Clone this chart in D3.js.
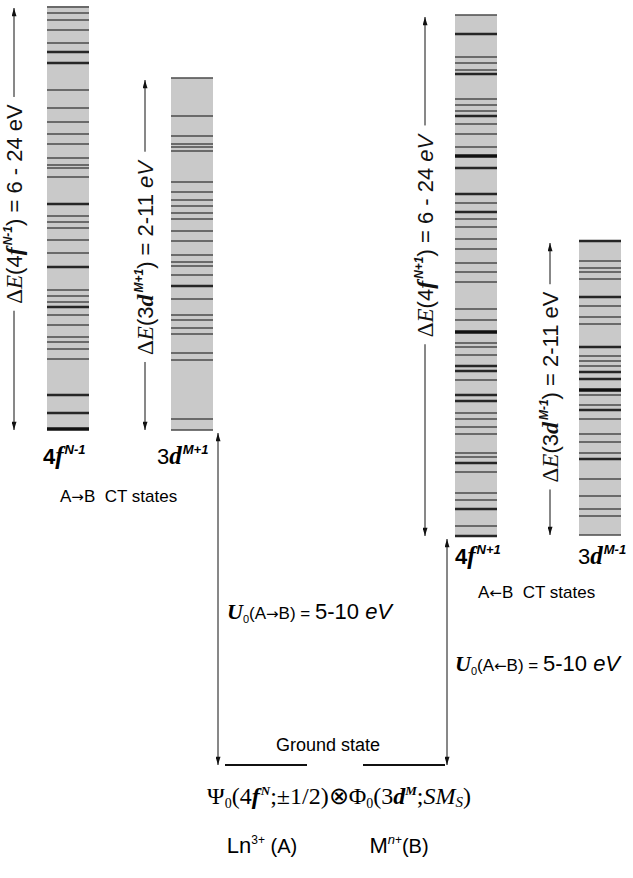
<!DOCTYPE html>
<html lang="en">
<head>
  <meta charset="UTF-8">
  <title>Ln-M charge transfer states</title>
  <style>
    body, html {
      margin: 0;
      padding: 0;
      background-color: #fff;
    }
    #svg {
      display: block;
    }
  </style>
</head>
<body>
  <svg id="svg" width="633" height="878"></svg>
  <script src="https://d3js.org/d3.v7.min.js"></script>
  <script>
    // energies in arbitrary units above the bottom of the picture
    const bands = ['4fN-1', '3dM+1', '4fN+1', '3dM-1']
    const bandLow = [35.5, 35.5, 24.9, 25.0]
    const bandHigh = [77.9, 70.7, 77.0, 54.4]
    const groundEnergy = 2.0

    // [energy, weight] - weight 1 thin, 2 thick, 3 very thick
    const levels4fNm1 = [
      [77.8, 1], [77.2, 1], [76.5, 1], [75.5, 1], [74.2, 1], [73.3, 2], [72.2, 2], [69.5, 1],
      [67.7, 1], [66.3, 1], [65.1, 1], [64.1, 1], [62.7, 1], [62.0, 1], [61.7, 1], [60.8, 1],
      [58.1, 2], [56.9, 1], [56.3, 1], [55.7, 1], [54.5, 1], [53.2, 1], [51.8, 2], [49.5, 1],
      [48.9, 1], [48.3, 1], [47.8, 2], [47.0, 1], [46.0, 1], [44.8, 1], [44.3, 1], [43.6, 1],
      [42.6, 1], [39.0, 2], [37.2, 2], [35.6, 3]
    ]
    const levels3dMp1 = [
      [70.7, 1], [66.9, 1], [64.9, 1], [64.1, 1], [63.8, 1], [63.4, 1], [60.3, 1], [59.3, 1],
      [58.5, 1], [57.9, 1], [57.2, 1], [56.6, 1], [55.4, 1], [54.4, 1], [53.0, 1], [52.3, 1],
      [51.9, 1], [51.0, 1], [49.9, 2], [48.6, 1], [47.0, 1], [46.5, 1], [45.7, 1], [45.1, 1],
      [43.2, 1], [42.5, 1], [36.6, 1], [35.5, 1]
    ]
    const levels4fNp1 = [
      [77.0, 1], [75.1, 2], [72.8, 1], [72.2, 1], [71.5, 1], [71.1, 2], [68.6, 1], [68.0, 1],
      [67.4, 1], [66.9, 2], [66.1, 1], [65.1, 1], [63.8, 1], [62.9, 3], [61.7, 2], [59.1, 2],
      [58.2, 1], [57.3, 2], [56.6, 1], [55.8, 1], [54.6, 1], [53.6, 1], [52.2, 1], [51.3, 1],
      [50.3, 1], [47.6, 1], [46.5, 1], [45.3, 3], [44.2, 1], [43.8, 1], [43.0, 1], [41.9, 2],
      [41.4, 2], [40.5, 1], [39.0, 2], [38.4, 2], [37.2, 1], [36.6, 1], [35.8, 1], [35.1, 1],
      [33.2, 1], [32.8, 1], [32.2, 2], [31.3, 1], [29.2, 1], [28.5, 1], [27.6, 2], [25.9, 1],
      [24.9, 2]
    ]
    const levels3dMm1 = [
      [54.4, 2], [52.4, 1], [51.7, 1], [51.3, 1], [50.6, 1], [48.8, 2], [47.9, 1], [46.8, 1],
      [46.1, 1], [43.8, 2], [42.9, 1], [42.4, 1], [41.9, 1], [41.3, 2], [40.6, 2], [39.5, 3],
      [39.0, 1], [38.0, 1], [37.5, 2], [36.6, 1], [35.1, 1], [34.3, 1], [33.2, 1], [32.6, 2],
      [30.6, 1], [28.9, 1], [27.6, 1], [26.9, 1], [25.0, 1]
    ]
    const bandLevels = [levels4fNm1, levels3dMp1, levels4fNp1, levels3dMm1]
    const bandWidths = ['6 - 24', '2-11', '6 - 24', '2-11']
    const uRange = '5-10'

    const svg = d3.select('#svg')
    const yScale = d3.scaleLinear().domain([0, 78]).range([785, 5])
    const weightScale = d3.scaleOrdinal().domain([1, 2, 3]).range([1.3, 2.3, 3.6])
    const shadeScale = d3.scaleOrdinal().domain([1, 2, 3]).range(['#4a4a4a', '#262626', '#111'])

    // layout of columns
    const barX = { '4fN-1': 47, '3dM+1': 171, '4fN+1': 455, '3dM-1': 579 }
    const barW = 42
    const arrowX = { '4fN-1': 14, '3dM+1': 145, '4fN+1': 425, '3dM-1': 550 }
    const labelY = { '4fN-1': 204, '3dM+1': 258, '4fN+1': 236, '3dM-1': 387 }
    const nameX = { '4fN-1': 43, '3dM+1': 157, '4fN+1': 455, '3dM-1': 578 }
    const nameY = { '4fN-1': 464, '3dM+1': 464, '4fN+1': 564, '3dM-1': 564 }

    const SANS = "'Liberation Sans', Arial, sans-serif"
    const SERIF = "'Liberation Serif', 'Times New Roman', serif"
    const ARROW = "'DejaVu Sans', sans-serif"

    const defs = svg.append('defs')
    defs.append('marker')
      .attr('id', 'head')
      .attr('viewBox', '0 0 10 6')
      .attr('refX', 10)
      .attr('refY', 3)
      .attr('markerWidth', 9)
      .attr('markerHeight', 5)
      .attr('markerUnits', 'userSpaceOnUse')
      .attr('orient', 'auto-start-reverse')
      .append('path')
      .attr('d', 'M0,0 L10,3 L0,6 z')
      .attr('fill', '#111')

    // rich text helper: parts {t, f, s, i, b, dy, dx}
    function rich(text, parts) {
      let shift = 0
      parts.forEach(p => {
        const ts = text.append('tspan').text(p.t)
          .attr('font-family', p.f || SANS)
          .attr('font-size', p.s || 17)
        if (p.i) ts.attr('font-style', 'italic')
        if (p.b) ts.attr('font-weight', 'bold')
        if (p.dx) ts.attr('dx', p.dx)
        const want = p.dy || 0
        if (want !== shift) {
          ts.attr('dy', want - shift)
          shift = want
        }
      })
      return text
    }

    // bars
    bands.forEach((b, i) => {
      const g = svg.append('g')
      g.append('rect')
        .attr('x', barX[b])
        .attr('y', yScale(bandHigh[i]))
        .attr('width', barW)
        .attr('height', yScale(bandLow[i]) - yScale(bandHigh[i]))
        .attr('fill', '#c9c9c9')
      g.selectAll('line')
        .data(bandLevels[i])
        .enter()
        .append('line')
        .attr('x1', barX[b])
        .attr('x2', barX[b] + barW)
        .attr('y1', d => yScale(d[0]))
        .attr('y2', d => yScale(d[0]))
        .attr('stroke', d => shadeScale(d[1]))
        .attr('stroke-width', d => weightScale(d[1]))
    })

    // double arrows with rotated width labels
    const orb = ['4', '3', '4', '3']
    const orbL = ['f', 'd', 'f', 'd']
    const sup = ['N-1', 'M+1', 'N+1', 'M-1']
    const italicEV = [false, true, true, false]
    bands.forEach((b, i) => {
      const x = arrowX[b]
      svg.append('line')
        .attr('x1', x).attr('x2', x)
        .attr('y1', yScale(bandHigh[i]) + 2)
        .attr('y2', yScale(bandLow[i]))
        .attr('stroke', '#111')
        .attr('stroke-width', 1)
        .attr('marker-start', 'url(#head)')
        .attr('marker-end', 'url(#head)')
      const g = svg.append('g')
        .attr('transform', `translate(${x}, ${labelY[b]}) rotate(-90)`)
      const bg = g.append('rect').attr('fill', '#fff')
      const big = 22
      const t = g.append('text')
        .attr('text-anchor', 'middle')
        .attr('y', 8)
        .attr('fill', '#111')
      rich(t, [
        { t: 'Δ', f: SERIF, s: big + 1 },
        { t: 'E', f: SERIF, s: big + 1, i: true },
        { t: '(' + orb[i], s: big },
        { t: orbL[i], f: SERIF, s: big + 2, i: true, b: true },
        { t: sup[i], s: 12, i: true, b: true, dy: -10, dx: 2 },
        { t: ') = ' + bandWidths[i] + ' ', s: big },
        { t: 'eV', s: big, i: italicEV[i] }
      ])
      const bb = t.node().getBBox()
      bg.attr('x', bb.x - 7).attr('y', bb.y - 2)
        .attr('width', bb.width + 14).attr('height', bb.height + 4)
    })

    // band labels below bars
    bands.forEach((b, i) => {
      const t = svg.append('text')
        .attr('x', nameX[b])
        .attr('y', nameY[b])
      rich(t, [
        { t: orb[i], s: 22, b: i === 0 || i === 2 },
        { t: orbL[i], f: SERIF, s: 25, i: true, b: true },
        { t: sup[i], s: 13, i: true, b: true, dy: -10, dx: 1 }
      ])
    })

    // CT state captions
    const captions = [
      { x: 60, y: 502, dir: '\u2192' },
      { x: 478, y: 598, dir: '\u2190' }
    ]
    captions.forEach(c => {
      const t = svg.append('text').attr('x', c.x).attr('y', c.y)
      rich(t, [
        { t: 'A', s: 17 },
        { t: c.dir, f: ARROW, s: 15 },
        { t: 'B\u00a0\u00a0CT states', s: 17 }
      ])
    })

    // U0 arrows from ground state
    const uArrows = [
      { x: 218, top: bandLow[1], dir: '\u2192', tx: 227, ty: 619 },
      { x: 447, top: bandLow[2], dir: '\u2190', tx: 455, ty: 671 }
    ]
    uArrows.forEach(u => {
      svg.append('line')
        .attr('x1', u.x).attr('x2', u.x)
        .attr('y1', yScale(u.top) + 3)
        .attr('y2', yScale(groundEnergy))
        .attr('stroke', '#111')
        .attr('stroke-width', 1)
        .attr('marker-start', 'url(#head)')
        .attr('marker-end', 'url(#head)')
      const t = svg.append('text').attr('x', u.tx).attr('y', u.ty)
      rich(t, [
        { t: 'U', f: SERIF, s: 22, i: true, b: true },
        { t: '0', s: 11, dy: 4 },
        { t: '(A', s: 17 },
        { t: u.dir, f: ARROW, s: 15 },
        { t: 'B) = ', s: 17 },
        { t: uRange + ' ', s: 22 },
        { t: 'eV', s: 22, i: true }
      ])
    })

    // ground state
    const gy = yScale(groundEnergy)
    svg.append('line').attr('x1', 225).attr('x2', 307).attr('y1', gy).attr('y2', gy)
      .attr('stroke', '#111').attr('stroke-width', 2)
    svg.append('line').attr('x1', 363).attr('x2', 445).attr('y1', gy).attr('y2', gy)
      .attr('stroke', '#111').attr('stroke-width', 2)
    svg.append('text').attr('x', 328).attr('y', gy - 14)
      .attr('text-anchor', 'middle')
      .attr('font-family', SANS).attr('font-size', 18)
      .text('Ground state')

    const f = svg.append('text').attr('x', 339).attr('y', gy + 39).attr('text-anchor', 'middle')
    rich(f, [
      { t: 'Ψ', f: SERIF, s: 24 },
      { t: '0', f: SERIF, s: 14, dy: 4 },
      { t: '(4', f: SERIF, s: 24 },
      { t: 'f', f: SERIF, s: 24, i: true, b: true },
      { t: 'N', f: SERIF, s: 13, i: true, b: true, dy: -9, dx: 1 },
      { t: ';±1/2)⊗Φ', f: SERIF, s: 24 },
      { t: '0', f: SERIF, s: 14, dy: 4 },
      { t: '(3', f: SERIF, s: 24 },
      { t: 'd', f: SERIF, s: 24, i: true, b: true },
      { t: 'M', f: SERIF, s: 13, i: true, b: true, dy: -9 },
      { t: ';', f: SERIF, s: 24 },
      { t: 'SM', f: SERIF, s: 24, i: true },
      { t: 'S', f: SERIF, s: 15, i: true, dy: 3 },
      { t: ')', f: SERIF, s: 24 }
    ])

    const ln = svg.append('text').attr('x', 262).attr('y', gy + 88).attr('text-anchor', 'middle')
    rich(ln, [
      { t: 'Ln', s: 22 },
      { t: '3+', s: 12, dy: -9 },
      { t: ' (A)', s: 20 }
    ])
    const mn = svg.append('text').attr('x', 399).attr('y', gy + 88).attr('text-anchor', 'middle')
    rich(mn, [
      { t: 'M', s: 22 },
      { t: 'n', s: 13, i: true, dy: -9 },
      { t: '+', s: 12, dy: -9 },
      { t: '(B)', s: 20 }
    ])
  </script>
</body>
</html>
